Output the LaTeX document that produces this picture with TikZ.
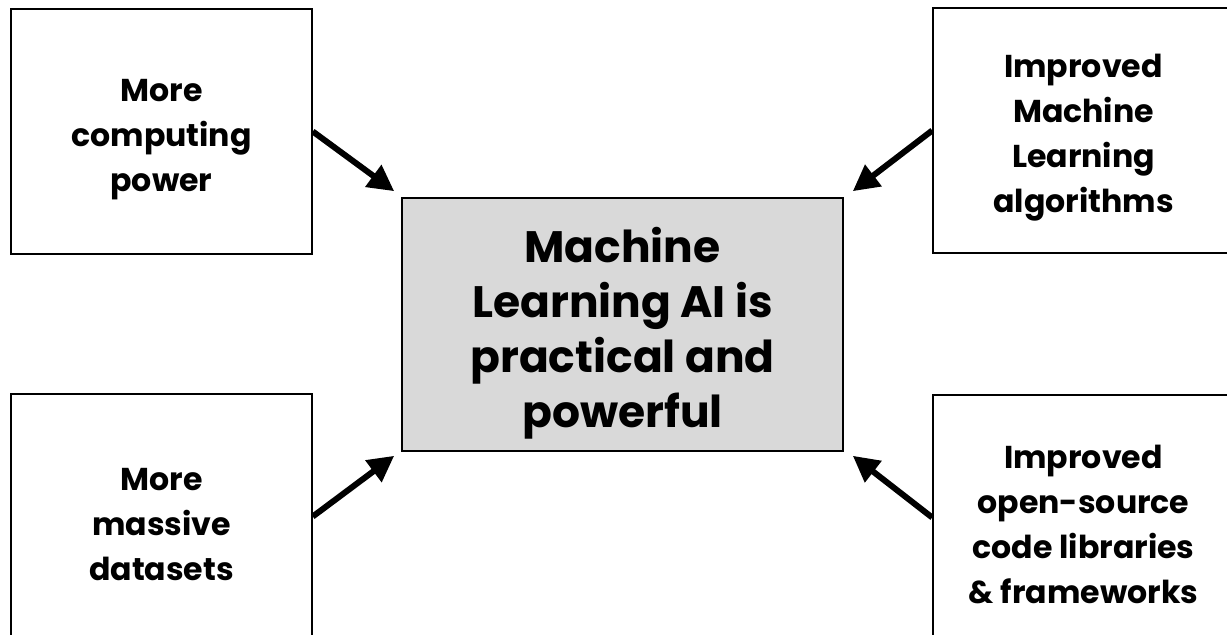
\documentclass[tikz,border=0pt]{standalone}
\usepackage{fontspec}
\setmainfont{Poppins}
\usetikzlibrary{positioning}
\usetikzlibrary{arrows.meta}

% struts that push the first line down, Poppins sits high in a box
\newcommand{\causegap}{\rule{0pt}{19pt}}
\newcommand{\maingap}{\rule{0pt}{26pt}}

\begin{document}
\begin{tikzpicture}[x=0.5pt,y=-0.5pt,>={Triangle[length=13pt,width=13pt]},
	cause node/.style={rectangle,draw,line width=0.8pt,minimum width=150.5pt,minimum height=122.5pt,align=center,font=\fontsize{15.8}{22.5}\selectfont\bfseries},
	main node/.style={rectangle,draw,fill=black!15,line width=0.8pt,minimum width=220.5pt,minimum height=126.5pt,align=center,font=\fontsize{22}{27.5}\selectfont\bfseries},
	push/.style={->,line width=3pt}]

	%page frame, the outer boxes run off the right and bottom edges
	\useasboundingbox (0,0) rectangle (1227,635);
	\clip (0,0) rectangle (1227,635);

	%the result in the middle
	\node[main node] (ml) at (622.5,324.5) {\maingap Machine\\Learning AI is\\practical and\\powerful};

	%the four causes round it
	\begin{scope}
		\node[cause node] (power) at (161.5,131.5) {\causegap More\\computing\\power};
		\node[cause node] (algos) at (1083.5,130.5) {\causegap Improved\\Machine\\Learning\\algorithms};
		\node[cause node] (data) at (161.5,516.5) {\causegap More\\massive\\datasets};
		\node[cause node] (libs) at (1083.5,517.5) {\causegap Improved\\open-source\\code libraries\\\& frameworks};
	\end{scope}

	%arrows from each cause to the corners of the middle box
	\begin{scope}
		\draw[push] (power.east) -- ([shift={(-7,-6)}]ml.north west);
		\draw[push] (algos.west) -- ([shift={(9,-6)}]ml.north east);
		\draw[push] (data.east) -- ([shift={(-7,4)}]ml.south west);
		\draw[push] (libs.west) -- ([shift={(9,4)}]ml.south east);
	\end{scope}
\end{tikzpicture}
\end{document}
